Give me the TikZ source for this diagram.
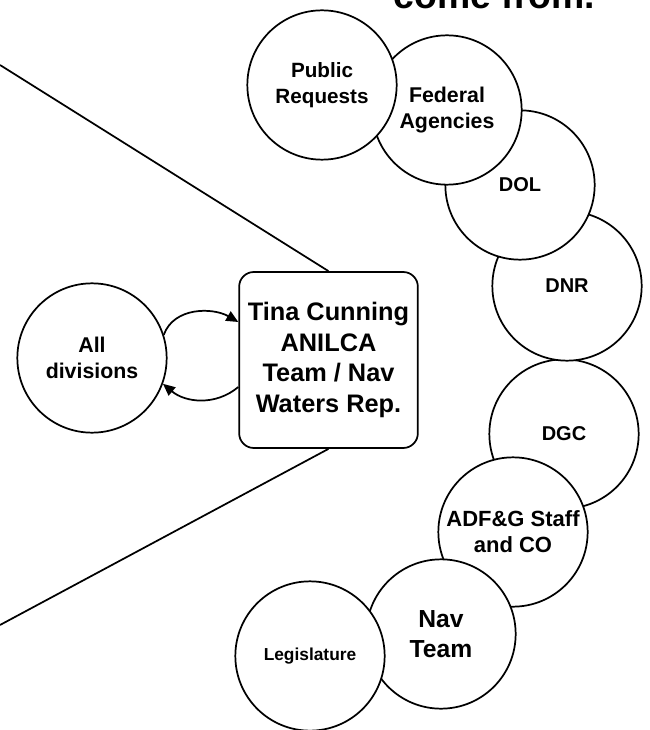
\documentclass[tikz,border=0pt]{standalone}
\usepackage{fontspec}
\setmainfont{Liberation Sans}
\usetikzlibrary{positioning, arrows.meta, calc}

\begin{document}
\begin{tikzpicture}[x=0.75pt, y=-0.75pt, line width=1.3pt,
    every node/.style={align=center},
    source/.style={draw, circle, fill=white, minimum size=112pt, inner sep=0pt},
    flow/.style={-{Triangle[length=9pt, width=8pt]}, line width=1.3pt}]
  \useasboundingbox (0,0) rectangle (649,730);

  % Heading, cut off by the top of the page
  \node[anchor=base west, inner sep=0pt, font=\bfseries\fontsize{28}{34}\selectfont] (heading) at (393,9) {come from.};

  % Where the requests come from (drawn back to front)
  \node[source, font=\bfseries\fontsize{15}{18}\selectfont] (dgc) at (564,434) {DGC};
  \node[source, font=\bfseries\fontsize{15}{18}\selectfont] (dnr) at (567,286) {DNR};
  \node[source, font=\bfseries\fontsize{15}{18}\selectfont] (dol) at (520,185) {DOL};
  \node[source, font=\bfseries\fontsize{16}{20}\selectfont] (fed) at (447,110) {Federal\\Agencies};
  \node[source, font=\bfseries\fontsize{15.5}{20}\selectfont] (public) at (322,85) {Public\\Requests};
  \node[source, font=\bfseries\fontsize{16.5}{19.5}\selectfont] (adfg) at (513,532) {ADF\&G Staff\\and CO};
  \node[source, font=\bfseries\fontsize{18.5}{22}\selectfont] (nav) at (441,634) {Nav\\Team};
  \node[source, font=\bfseries\fontsize{13}{16}\selectfont] (legis) at (310,656) {Legislature};

  % Divisions and the ANILCA rep
  \node[source, font=\bfseries\fontsize{16}{19.5}\selectfont] (div) at (92,358) {All\\divisions};
  \node[draw, fill=white, rounded corners=11pt, minimum width=134pt, minimum height=132pt,
        font=\bfseries\fontsize{19}{23}\selectfont] (tina) at (328.5,360) {Tina Cunning\\ANILCA\\Team / Nav\\Waters Rep.};

  % Funnel lines to the page edge
  \coordinate (topedge) at (0,65);
  \coordinate (botedge) at (0,625);
  \draw (topedge) -- (tina.north);
  \draw (tina.south) -- (botedge);

  % Exchange with the divisions
  \draw[flow] (div.18) to[out=70, in=150] ($(tina.west)+(0,-38)$);
  \draw[flow] ($(tina.west)+(0,27)$) to[out=220, in=-40] (div.-20);
\end{tikzpicture}
\end{document}
